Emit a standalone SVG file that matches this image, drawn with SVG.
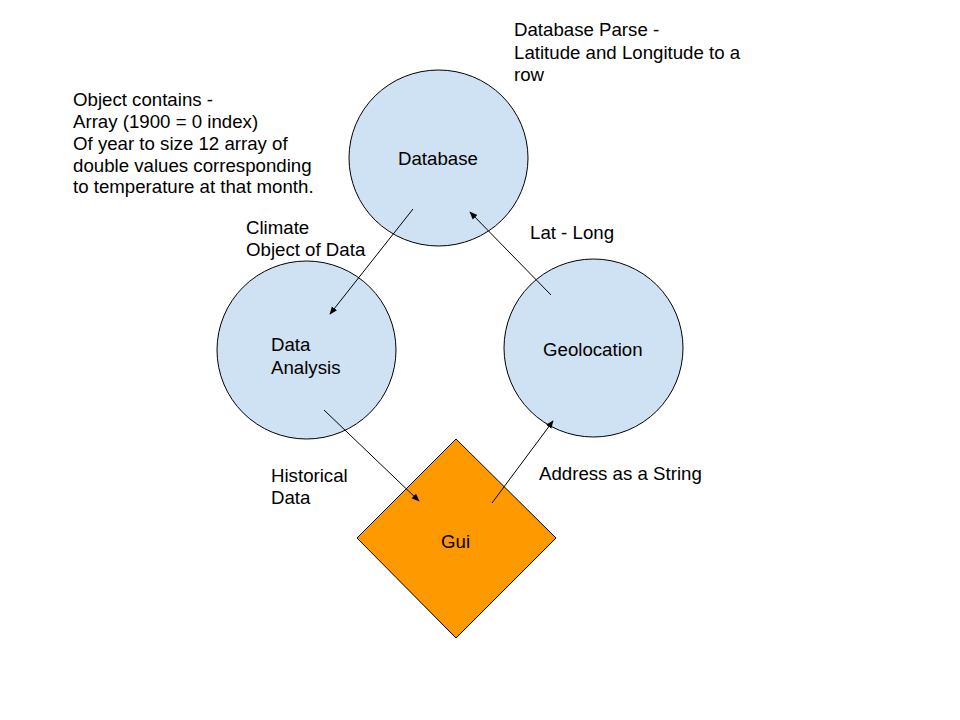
<svg xmlns="http://www.w3.org/2000/svg" width="960" height="720" viewBox="0 0 960 720">
<defs>
<style>
.node{fill:#cfe2f3;stroke:#000;stroke-width:1}
.gui{fill:#ff9900;stroke:#000;stroke-width:1}
text{font-family:"Liberation Sans",Arial,sans-serif;font-size:18.67px;fill:#000}
.edge{stroke:#000;stroke-width:1;fill:none;marker-end:url(#arr)}
</style>
<marker id="arr" viewBox="0 0 10 10" refX="9" refY="5" markerWidth="8" markerHeight="8" markerUnits="userSpaceOnUse" orient="auto">
<path d="M0,1 L10,5 L0,9 z" fill="#000"/>
</marker>
</defs>
<rect width="960" height="720" fill="#fff"/>
<g id="database"><ellipse class="node" cx="438.5" cy="158" rx="89.5" ry="88"/><text x="398" y="165">Database</text></g>
<g id="data-analysis"><ellipse class="node" cx="306.5" cy="350" rx="89.5" ry="89"/><text x="271" y="351">Data</text><text x="271" y="374">Analysis</text></g>
<g id="geolocation"><ellipse class="node" cx="593.5" cy="348" rx="89.5" ry="89"/><text x="543" y="356">Geolocation</text></g>
<g id="gui"><polygon class="gui" points="456,439 556,538 456,638 357,538"/><text x="441" y="548">Gui</text></g>
<g id="connectors">
<line class="edge" x1="413" y1="209" x2="330" y2="314"/>
<line class="edge" x1="551" y1="295" x2="470" y2="212"/>
<line class="edge" x1="324" y1="410" x2="419" y2="501"/>
<line class="edge" x1="492" y1="503" x2="553" y2="421"/>
</g>
<g id="labels">
<text x="514" y="36">Database Parse -</text>
<text x="514" y="59">Latitude and Longitude to a</text>
<text x="514" y="81">row</text>
<text x="73" y="106">Object contains -</text>
<text x="73" y="128">Array (1900 = 0 index)</text>
<text x="73" y="150">Of year to size 12 array of</text>
<text x="73" y="172">double values corresponding</text>
<text x="73" y="193">to temperature at that month.</text>
<text x="246" y="234">Climate</text>
<text x="246" y="256">Object of Data</text>
<text x="530" y="239">Lat - Long</text>
<text x="271" y="482">Historical</text>
<text x="271" y="504">Data</text>
<text x="539" y="480">Address as a String</text>
</g>
</svg>
